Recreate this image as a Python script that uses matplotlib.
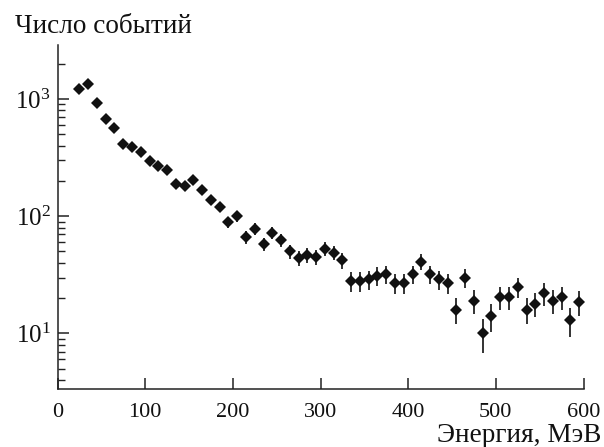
import numpy as np
import matplotlib
matplotlib.use("Agg")
import matplotlib.pyplot as plt
from matplotlib.ticker import LogLocator, LogFormatterMathtext, NullFormatter

plt.rcParams['font.family'] = ['Liberation Serif', 'DejaVu Serif']
plt.rcParams['mathtext.fontset'] = 'custom'
plt.rcParams['mathtext.rm'] = 'Liberation Serif'
plt.rcParams['mathtext.it'] = 'Liberation Serif:italic'
plt.rcParams['mathtext.bf'] = 'Liberation Serif:bold'

# Bin centres (MeV)
energy = [25, 35, 45, 55, 65, 75, 85, 95, 105, 115,
          125, 135, 145, 155, 165, 175, 185, 195, 205, 215,
          225, 235, 245, 255, 265, 275, 285, 295, 305, 315,
          325, 335, 345, 355, 365, 375, 385, 395, 405, 415,
          425, 435, 445, 455, 465, 475, 485, 495, 505, 515,
          525, 535, 545, 555, 565, 575, 585, 595]

# Number of events
counts = [1217, 1342, 924, 672, 563, 412, 390, 356, 293, 266,
          249, 188, 182, 203, 167, 138, 119, 89, 100, 66,
          78, 58, 72, 63, 50, 44, 47, 45, 53, 49,
          42, 28, 28, 29, 31, 32, 27, 27, 32, 41,
          32, 29, 27, 16, 30, 19, 10, 14, 20.5, 20.5,
          25, 16, 18, 22, 19, 20.5, 13, 18.5]

# Vertical error bars
errors = [35, 37, 30, 26, 24, 20, 20, 19, 17, 16,
          16, 14, 13, 14, 13, 12, 11, 9.4, 10, 8.1,
          8.8, 7.6, 8.5, 7.9, 7.1, 6.6, 6.9, 6.7, 7.3, 7.0,
          6.5, 5.3, 5.3, 5.4, 5.6, 5.7, 5.2, 5.2, 5.7, 6.4,
          5.7, 5.4, 5.2, 4.0, 5.5, 4.4, 3.2, 3.7, 4.5, 4.5,
          5.0, 4.0, 4.2, 4.7, 4.4, 4.5, 3.6, 4.3]

# Horizontal half-width of bars (MeV)
x_half = 4

x_ticks = [0, 100, 200, 300, 400, 500, 600]
y_label = "Число событий"
x_label = "Энергия, МэВ"

fig = plt.figure(figsize=(6.04, 4.47), dpi=100)
ax = fig.add_axes([57.5 / 604, 1 - 389 / 447, (583.5 - 57.5) / 604, (389 - 44.7) / 447])

ax.errorbar(energy, counts, yerr=errors, xerr=x_half, fmt='D', color='#111111',
            ecolor='#111111', elinewidth=1.2, markersize=6.5, capsize=0,
            markeredgewidth=0)

ax.set_yscale('log')
ax.set_xlim(0, 600)
ax.set_ylim(3.36, 2900)
ax.set_xticks(x_ticks)
ax.set_xticklabels([str(t) for t in x_ticks])
ax.yaxis.set_major_locator(LogLocator(base=10, numticks=10))
ax.yaxis.set_major_formatter(LogFormatterMathtext())
ax.yaxis.set_minor_locator(LogLocator(base=10, subs=np.arange(2, 10), numticks=20))
ax.yaxis.set_minor_formatter(NullFormatter())

for side in ['top', 'right']:
    ax.spines[side].set_visible(False)
for side in ['left', 'bottom']:
    ax.spines[side].set_linewidth(1.1)
    ax.spines[side].set_color('#222222')

ax.tick_params(axis='both', which='major', direction='in', length=8, width=1.1,
               colors='#222222', labelcolor='#111111')
ax.tick_params(axis='x', which='major', labelsize=16, pad=10)
ax.tick_params(axis='y', which='major', labelsize=18, pad=5)
ax.tick_params(axis='y', which='minor', direction='in', length=5, width=1.0, colors='#222222')

fig.text(15 / 604, 1 - 33 / 447, y_label, fontsize=19.6, ha='left', va='baseline', color='#111111')
fig.text(601 / 604, 1 - 442 / 447, x_label, fontsize=19.6, ha='right', va='baseline', color='#111111')

fig.savefig('out.png', dpi=100)
